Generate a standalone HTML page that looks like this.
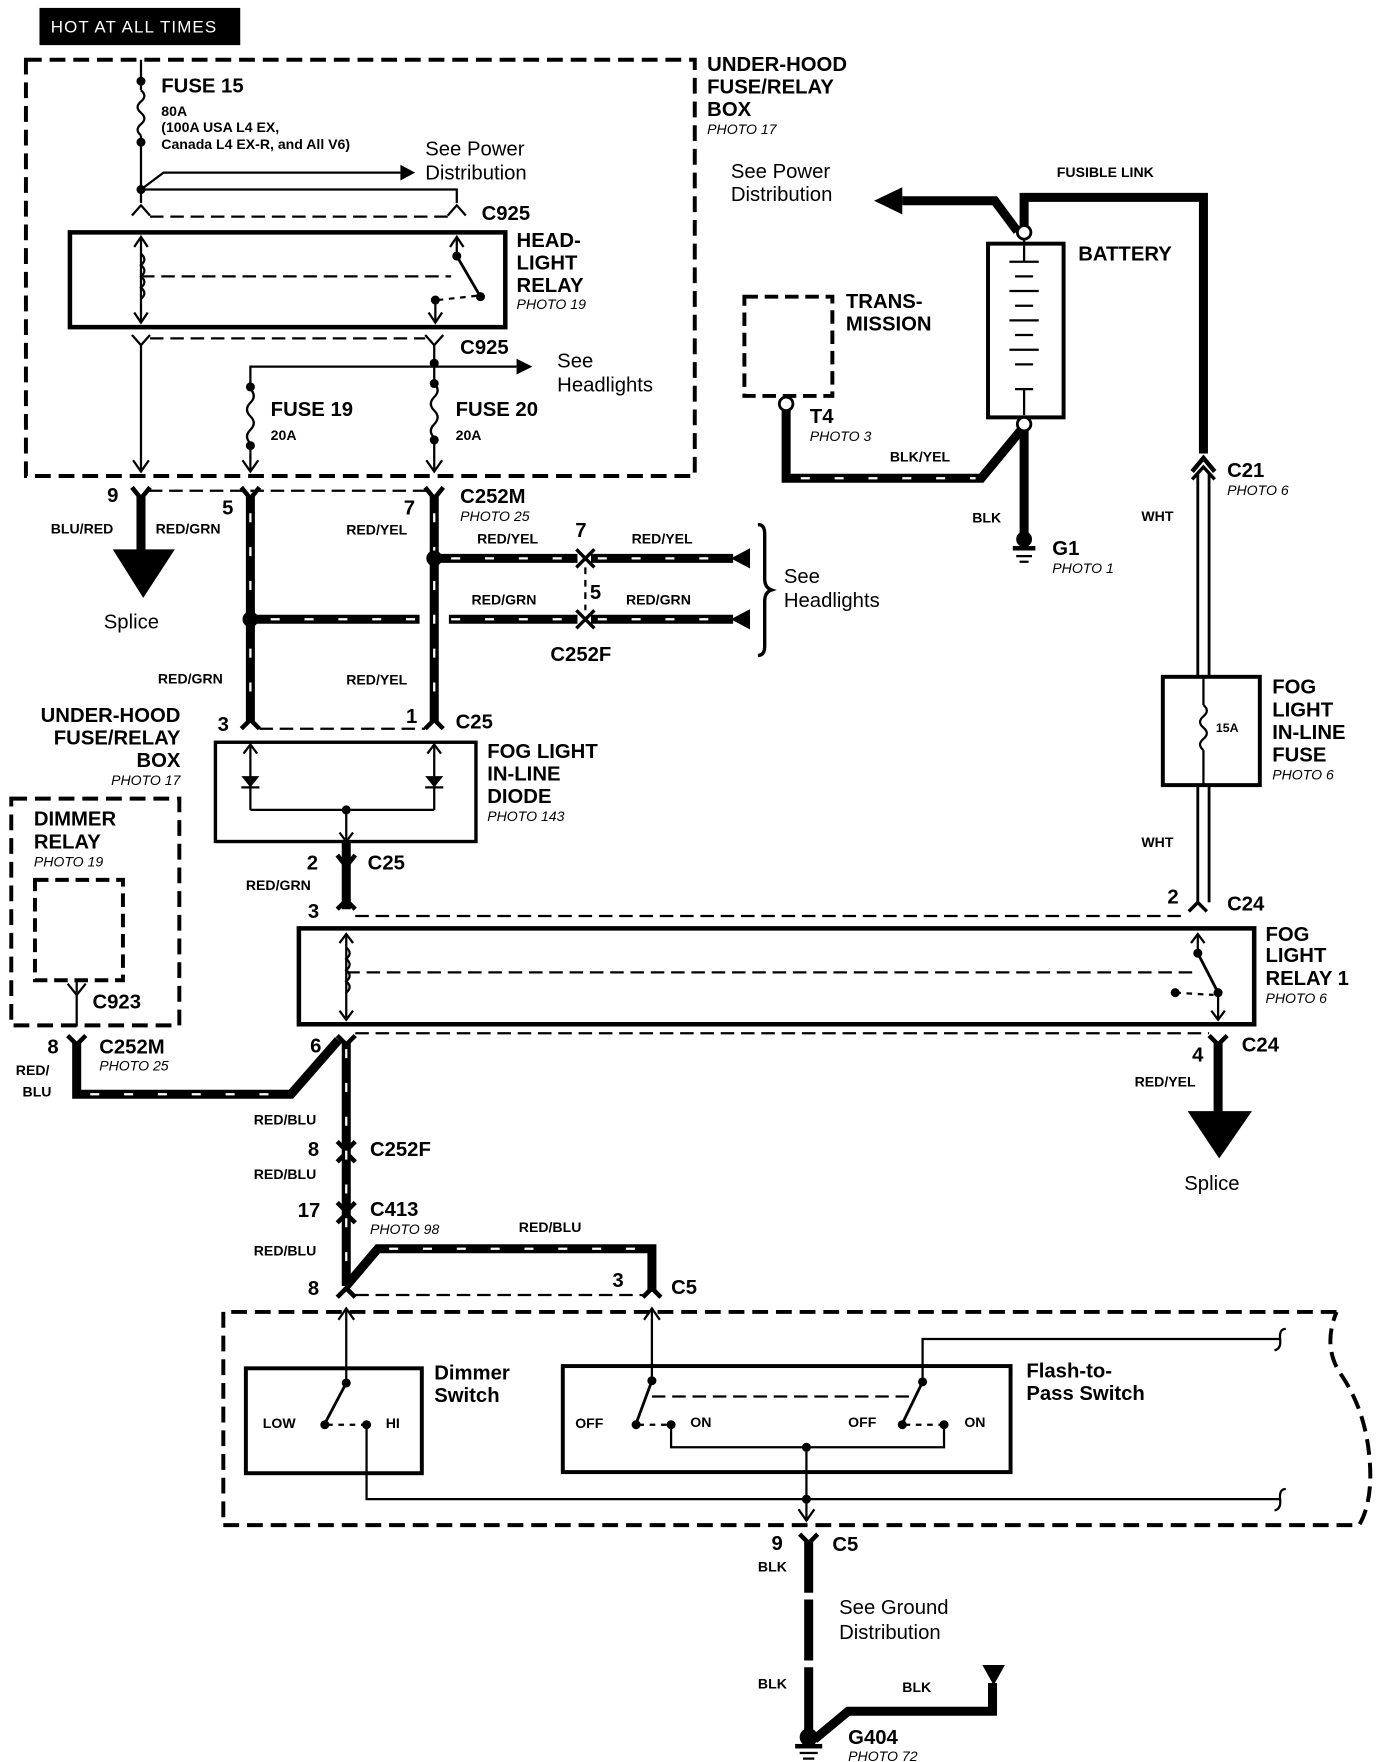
<!DOCTYPE html>
<html><head><meta charset="utf-8"><style>
html,body{margin:0;padding:0;background:#fff;}
svg{display:block;}
text{font-family:"Liberation Sans",Arial,sans-serif;fill:#000;}
.b{font-weight:bold;}
.h{font-weight:bold;font-size:18px;}
.s{font-weight:bold;font-size:12.5px;}
.p{font-style:italic;font-size:12.5px;}
.n{font-size:18px;}
</style></head><body>
<svg width="1376" height="1762" viewBox="0 0 1220 1562" preserveAspectRatio="none" xmlns="http://www.w3.org/2000/svg">
<g fill="none" stroke="#000">
<!-- under-hood dashed box -->
<rect x="23" y="53" width="593" height="369" stroke-width="3.5" stroke-dasharray="14,7"/>
<!-- fuse 15 -->
<line x1="125" y1="53" x2="125" y2="80" stroke-width="2"/>
<path d="M125 80 q6 5 0 10 q-6 5 0 10 q6 5 0 10 q-6 5 0 10" stroke-width="2"/>
<line x1="125" y1="120" x2="125" y2="180" stroke-width="2"/>
<polyline points="125,168 145,153 355,153" stroke-width="2"/>
<polyline points="125,168 405,168 405,180" stroke-width="2"/>
<polyline points="117,191 125,182 133,191" stroke-width="2"/>
<polyline points="397,191 405,182 413,191" stroke-width="2"/>
<line x1="133" y1="192" x2="397" y2="192" stroke-width="2" stroke-dasharray="12,6"/>
<!-- headlight relay -->
<rect x="62" y="206" width="386" height="84" stroke-width="4"/>
<line x1="125" y1="210" x2="125" y2="286" stroke-width="2"/>
<polyline points="119,219 125,210 131,219" stroke-width="2"/>
<polyline points="119,277 125,286 131,277" stroke-width="2"/>
<path d="M125 225 q6 5 0 10 q6 5 0 10 q6 5 0 10 q6 5 0 10" stroke-width="2"/>
<line x1="125" y1="245" x2="400" y2="245" stroke-width="2" stroke-dasharray="12,6"/>
<line x1="405" y1="210" x2="405" y2="227" stroke-width="2"/>
<polyline points="399,219 405,210 411,219" stroke-width="2"/>
<line x1="405" y1="227" x2="426" y2="263" stroke-width="2.5"/>
<line x1="388" y1="266" x2="424" y2="262" stroke-width="2" stroke-dasharray="5,5"/>
<line x1="386" y1="266" x2="386" y2="286" stroke-width="2"/>
<polyline points="380,277 386,286 392,277" stroke-width="2"/>
<!-- lower C925 -->
<polyline points="117,297 125,306 133,297" stroke-width="2"/>
<polyline points="377,297 385,306 393,297" stroke-width="2"/>
<line x1="133" y1="300" x2="377" y2="300" stroke-width="2" stroke-dasharray="12,6"/>
<line x1="125" y1="306" x2="125" y2="418" stroke-width="2"/>
<polyline points="118,408 125,418 132,408" stroke-width="2"/>
<line x1="385" y1="306" x2="385" y2="340" stroke-width="2"/>
<polyline points="222,345 222,325 458,325" stroke-width="2"/>
<path d="M222 345 q6 6 0 12 q-6 6 0 12 q6 6 0 12 q-6 6 0 12" stroke-width="2"/>
<line x1="222" y1="393" x2="222" y2="418" stroke-width="2"/>
<polyline points="215,408 222,418 229,408" stroke-width="2"/>
<path d="M385 340 q6 6 0 12 q-6 6 0 12 q6 6 0 12 q-6 6 0 12" stroke-width="2"/>
<line x1="385" y1="388" x2="385" y2="418" stroke-width="2"/>
<polyline points="378,408 385,418 392,408" stroke-width="2"/>
<!-- C252M row -->
<line x1="132" y1="435" x2="378" y2="435" stroke-width="2" stroke-dasharray="12,6"/>
<polyline points="117,432 125,442 133,432" stroke-width="4"/>
<polyline points="214,432 222,442 230,432" stroke-width="4"/>
<polyline points="377,432 385,442 393,432" stroke-width="4"/>
<line x1="125" y1="440" x2="125" y2="488" stroke-width="8"/>
<line x1="222" y1="440" x2="222" y2="640" stroke-width="8"/>
<line x1="385" y1="440" x2="385" y2="640" stroke-width="8"/>
<line x1="222" y1="549" x2="372" y2="549" stroke-width="8"/>
<line x1="398" y1="549" x2="512" y2="549" stroke-width="8"/>
<line x1="385" y1="495" x2="512" y2="495" stroke-width="8"/>
<polyline points="511,487 519,495 511,503" stroke-width="3"/>
<polyline points="511,541 519,549 511,557" stroke-width="3"/>
<polyline points="527,487 519,495 527,503" stroke-width="3"/>
<polyline points="527,541 519,549 527,557" stroke-width="3"/>
<line x1="519" y1="503" x2="519" y2="541" stroke-width="2" stroke-dasharray="6,5"/>
<line x1="524" y1="495" x2="650" y2="495" stroke-width="8"/>
<line x1="524" y1="549" x2="650" y2="549" stroke-width="8"/>
<path d="M672 465 q6 0 6 8 v40 q0 8 6 10 q-6 2 -6 10 v40 q0 8 -6 8" stroke-width="3"/>
<!-- C25 -->
<polyline points="214,646 222,638 230,646" stroke-width="4"/>
<polyline points="377,646 385,638 393,646" stroke-width="4"/>
<line x1="230" y1="646" x2="377" y2="646" stroke-width="2" stroke-dasharray="12,6"/>
<rect x="191" y="658" width="231" height="88" stroke-width="3"/>
<line x1="222" y1="660" x2="222" y2="718" stroke-width="2"/>
<line x1="385" y1="660" x2="385" y2="718" stroke-width="2"/>
<polyline points="216,668 222,660 228,668" stroke-width="2"/>
<polyline points="379,668 385,660 391,668" stroke-width="2"/>
<polyline points="222,718 385,718" stroke-width="2"/>
<line x1="307" y1="718" x2="307" y2="746" stroke-width="2"/>
<polyline points="301,738 307,746 313,738" stroke-width="2"/>
<line x1="214" y1="698" x2="230" y2="698" stroke-width="2"/>
<line x1="377" y1="698" x2="393" y2="698" stroke-width="2"/>
<!-- left dimmer relay -->
<rect x="10" y="708" width="149" height="201" stroke-width="3.5" stroke-dasharray="14,7"/>
<rect x="31" y="780" width="78" height="89" stroke-width="3.5" stroke-dasharray="12,6"/>
<line x1="68" y1="869" x2="68" y2="880" stroke-width="2"/>
<polyline points="60,872 68,882 76,872" stroke-width="2"/>
<line x1="68" y1="882" x2="68" y2="910" stroke-width="2"/>
<polyline points="60,918 68,926 76,918" stroke-width="4"/>
<polyline points="68,924 68,970 258,970 300,922" stroke-width="8"/>
<!-- C25 lower & fog relay -->
<polyline points="299,758 307,768 315,758" stroke-width="4"/>
<polyline points="299,806 307,798 315,806" stroke-width="4"/>
<line x1="307" y1="746" x2="307" y2="806" stroke-width="8"/>
<line x1="315" y1="812" x2="1052" y2="812" stroke-width="2" stroke-dasharray="12,6"/>
<polyline points="1054,808 1062,800 1070,808" stroke-width="3"/>
<rect x="265" y="823" width="847" height="85" stroke-width="4"/>
<line x1="307" y1="828" x2="307" y2="904" stroke-width="2"/>
<polyline points="301,836 307,828 313,836" stroke-width="2"/>
<polyline points="301,896 307,904 313,896" stroke-width="2"/>
<path d="M307 840 q6 5 0 10 q6 5 0 10 q6 5 0 10 q6 5 0 10" stroke-width="2"/>
<line x1="307" y1="862" x2="1058" y2="862" stroke-width="2" stroke-dasharray="12,6"/>
<line x1="1062" y1="828" x2="1062" y2="845" stroke-width="2"/>
<polyline points="1056,836 1062,828 1068,836" stroke-width="2"/>
<line x1="1062" y1="845" x2="1080" y2="880" stroke-width="2.5"/>
<line x1="1042" y1="880" x2="1076" y2="882" stroke-width="2" stroke-dasharray="5,5"/>
<line x1="1080" y1="882" x2="1080" y2="904" stroke-width="2"/>
<polyline points="1074,896 1080,904 1086,896" stroke-width="2"/>
<line x1="315" y1="916" x2="1072" y2="916" stroke-width="2" stroke-dasharray="12,6"/>
<polyline points="299,918 307,926 315,918" stroke-width="4"/>
<polyline points="1072,918 1080,926 1088,918" stroke-width="4"/>
<line x1="307" y1="924" x2="307" y2="1140" stroke-width="8"/>
<line x1="1080" y1="924" x2="1080" y2="988" stroke-width="8"/>
<polyline points="299,1012 307,1020 315,1012" stroke-width="4"/>
<polyline points="299,1030 307,1022 315,1030" stroke-width="4"/>
<polyline points="299,1066 307,1074 315,1066" stroke-width="4"/>
<polyline points="299,1084 307,1076 315,1084" stroke-width="4"/>
<polyline points="307,1140 335,1107 578,1107 578,1145" stroke-width="8"/>
<polyline points="299,1150 307,1142 315,1150" stroke-width="4"/>
<polyline points="570,1150 578,1142 586,1150" stroke-width="4"/>
<line x1="315" y1="1148" x2="570" y2="1148" stroke-width="2" stroke-dasharray="12,6"/>
<!-- switch dashed housing -->
<path d="M1185 1163 H198 V1352 H1205 Q1218 1330 1214 1290 Q1210 1250 1190 1220 Q1172 1195 1185 1163" stroke-width="3.5" stroke-dasharray="14,7"/>
<line x1="307" y1="1160" x2="307" y2="1226" stroke-width="2"/>
<polyline points="300,1170 307,1160 314,1170" stroke-width="2"/>
<line x1="578" y1="1160" x2="578" y2="1224" stroke-width="2"/>
<polyline points="571,1170 578,1160 585,1170" stroke-width="2"/>
<rect x="218" y="1213" width="156" height="93" stroke-width="3.5"/>
<rect x="499" y="1211" width="397" height="94" stroke-width="3.5"/>
<line x1="307" y1="1226" x2="288" y2="1262" stroke-width="2.5"/>
<line x1="290" y1="1263" x2="322" y2="1263" stroke-width="2" stroke-dasharray="5,5"/>
<polyline points="325,1263 325,1329 1135,1329" stroke-width="2"/>
<line x1="578" y1="1224" x2="564" y2="1262" stroke-width="2.5"/>
<line x1="566" y1="1263" x2="592" y2="1263" stroke-width="2" stroke-dasharray="5,5"/>
<line x1="578" y1="1238" x2="812" y2="1238" stroke-width="2" stroke-dasharray="12,6"/>
<polyline points="818,1225 818,1187 1135,1187" stroke-width="2"/>
<line x1="818" y1="1225" x2="800" y2="1262" stroke-width="2.5"/>
<line x1="802" y1="1263" x2="835" y2="1263" stroke-width="2" stroke-dasharray="5,5"/>
<polyline points="595,1263 595,1283 837,1283 837,1263" stroke-width="2"/>
<line x1="715" y1="1283" x2="715" y2="1348" stroke-width="2"/>
<polyline points="708,1338 715,1348 722,1338" stroke-width="2"/>
<path d="M1140 1178 q-6 0 -5 9 q1 9 -5 10" stroke-width="2"/>
<path d="M1140 1320 q-6 0 -5 9 q1 9 -5 10" stroke-width="2"/>
<polyline points="709,1360 717,1368 725,1360" stroke-width="4"/>
<line x1="717" y1="1366" x2="717" y2="1412" stroke-width="8"/>
<line x1="717" y1="1418" x2="717" y2="1472" stroke-width="8"/>
<line x1="717" y1="1478" x2="717" y2="1540" stroke-width="8"/>
<polyline points="722,1542 752,1517 880,1517 880,1492" stroke-width="8"/>
<!-- right side: battery -->
<polyline points="908,205 908,175 1067,175 1067,402" stroke-width="8"/>
<polyline points="902,205 882,178 800,178" stroke-width="8"/>
<rect x="876" y="216" width="67" height="154" stroke-width="3.5"/>
<line x1="908" y1="212" x2="908" y2="232" stroke-width="2"/>
<line x1="908" y1="345" x2="908" y2="368" stroke-width="2"/>
<g stroke-width="2">
<line x1="895" y1="232" x2="921" y2="232"/><line x1="900" y1="245" x2="916" y2="245"/>
<line x1="895" y1="258" x2="921" y2="258"/><line x1="900" y1="271" x2="916" y2="271"/>
<line x1="895" y1="284" x2="921" y2="284"/><line x1="900" y1="297" x2="916" y2="297"/>
<line x1="895" y1="310" x2="921" y2="310"/><line x1="900" y1="323" x2="916" y2="323"/>
<line x1="900" y1="345" x2="916" y2="345"/>
</g>
<polyline points="908,378 870,424 697,424 697,360" stroke-width="8"/>
<line x1="908" y1="378" x2="908" y2="476" stroke-width="8"/>
<rect x="660" y="263" width="78" height="88" stroke-width="3.5" stroke-dasharray="12,6"/>
<polyline points="1057,418 1067,406 1077,418" stroke-width="4"/>
<polyline points="1057,425 1067,414 1077,425" stroke-width="3"/>
<line x1="1062" y1="420" x2="1062" y2="600" stroke-width="2.5"/>
<line x1="1072" y1="420" x2="1072" y2="600" stroke-width="2.5"/>
<rect x="1031" y="600" width="86" height="96" stroke-width="3.5"/>
<line x1="1067" y1="600" x2="1067" y2="625" stroke-width="2"/>
<path d="M1067 625 q6 5 0 10 q-6 5 0 10 q6 5 0 10 q-6 5 0 10" stroke-width="2"/>
<line x1="1067" y1="665" x2="1067" y2="696" stroke-width="2"/>
<line x1="1062" y1="696" x2="1062" y2="800" stroke-width="2.5"/>
<line x1="1072" y1="696" x2="1072" y2="800" stroke-width="2.5"/>
</g>
<!-- white dash textures on thick wires -->
<g stroke="#fff" stroke-width="2" fill="none" stroke-dasharray="8,22">
<line x1="240" y1="549" x2="370" y2="549"/><line x1="400" y1="549" x2="510" y2="549"/>
<line x1="400" y1="495" x2="510" y2="495"/><line x1="530" y1="495" x2="645" y2="495"/>
<line x1="530" y1="549" x2="645" y2="549"/>
<line x1="222" y1="455" x2="222" y2="635"/><line x1="385" y1="455" x2="385" y2="635"/>
<line x1="307" y1="930" x2="307" y2="1135"/><line x1="80" y1="970" x2="255" y2="970"/>
<line x1="345" y1="1107" x2="575" y2="1107"/><line x1="710" y1="424" x2="865" y2="424"/>
</g>
<g fill="#000" stroke="none">
<rect x="35" y="7" width="178" height="33"/>
<circle cx="125" cy="72" r="4"/><circle cx="125" cy="126" r="4"/><circle cx="125" cy="168" r="4"/>
<polygon points="355,146 368,153 355,160"/>
<circle cx="405" cy="227" r="4"/><circle cx="426" cy="263" r="4"/><circle cx="386" cy="266" r="4"/>
<circle cx="385" cy="322" r="4"/><polygon points="458,318 472,325 458,332"/>
<circle cx="222" cy="343" r="4"/><circle cx="222" cy="395" r="4"/>
<circle cx="385" cy="340" r="4"/><circle cx="385" cy="390" r="4"/>
<polygon points="100,487 155,487 127,530"/>
<circle cx="222" cy="549" r="7"/><circle cx="385" cy="495" r="7"/>
<polygon points="665,486 648,495 665,504"/><polygon points="665,540 648,549 665,558"/>
<polygon points="214,688 230,688 222,698"/><polygon points="377,688 393,688 385,698"/>
<circle cx="307" cy="718" r="4"/>
<circle cx="1062" cy="845" r="4"/><circle cx="1080" cy="880" r="4"/><circle cx="1042" cy="880" r="4"/>
<polygon points="1053,985 1110,985 1081,1027"/>
<circle cx="307" cy="1226" r="4"/><circle cx="288" cy="1263" r="4"/><circle cx="325" cy="1263" r="4"/>
<circle cx="578" cy="1224" r="4"/><circle cx="564" cy="1263" r="4"/><circle cx="595" cy="1263" r="4"/>
<circle cx="818" cy="1225" r="4"/><circle cx="800" cy="1263" r="4"/><circle cx="837" cy="1263" r="4"/>
<circle cx="715" cy="1283" r="4"/><circle cx="715" cy="1329" r="4"/>
<polygon points="871,1476 891,1476 881,1494"/>
<polygon points="800,166 775,178 800,190"/>
<circle cx="908" cy="478" r="7"/><rect x="898" y="484" width="20" height="4"/><rect x="901" y="492" width="14" height="2"/><rect x="904" y="497" width="8" height="2"/>
<circle cx="717" cy="1540" r="8"/><rect x="705" y="1546" width="24" height="4"/><rect x="709" y="1553" width="16" height="2"/><rect x="712" y="1558" width="10" height="2"/>
</g>
<g fill="#fff" stroke="#000" stroke-width="2.5">
<circle cx="908" cy="206" r="6"/><circle cx="908" cy="376" r="6"/><circle cx="697" cy="358" r="6"/>
</g>
<text x="45" y="29" style="fill:#fff;font-size:15px;letter-spacing:1px">HOT AT ALL TIMES</text>
<text x="143" y="82" class="h">FUSE 15</text>
<text x="143" y="103" class="s">80A</text>
<text x="143" y="117" class="s">(100A USA L4 EX,</text>
<text x="143" y="132" class="s">Canada L4 EX-R, and All V6)</text>
<text x="377" y="138" class="n">See Power</text>
<text x="377" y="159" class="n">Distribution</text>
<text x="427" y="195" class="h">C925</text>
<text x="458" y="219" class="h">HEAD-</text>
<text x="458" y="239" class="h">LIGHT</text>
<text x="458" y="259" class="h">RELAY</text>
<text x="458" y="274" class="p">PHOTO 19</text>
<text x="408" y="314" class="h">C925</text>
<text x="494" y="326" class="n">See</text>
<text x="494" y="347" class="n">Headlights</text>
<text x="240" y="369" class="h">FUSE 19</text>
<text x="240" y="390" class="s">20A</text>
<text x="404" y="369" class="h">FUSE 20</text>
<text x="404" y="390" class="s">20A</text>
<text x="627" y="63" class="h">UNDER-HOOD</text>
<text x="627" y="83" class="h">FUSE/RELAY</text>
<text x="627" y="103" class="h">BOX</text>
<text x="627" y="119" class="p">PHOTO 17</text>
<text x="648" y="158" class="n">See Power</text>
<text x="648" y="178" class="n">Distribution</text>
<text x="937" y="157" class="s">FUSIBLE LINK</text>
<text x="956" y="231" class="h">BATTERY</text>
<text x="750" y="273" class="h">TRANS-</text>
<text x="750" y="293" class="h">MISSION</text>
<text x="718" y="375" class="h">T4</text>
<text x="718" y="391" class="p">PHOTO 3</text>
<text x="789" y="409" class="s">BLK/YEL</text>
<text x="862" y="463" class="s">BLK</text>
<text x="933" y="492" class="h">G1</text>
<text x="933" y="508" class="p">PHOTO 1</text>
<text x="1088" y="423" class="h">C21</text>
<text x="1088" y="439" class="p">PHOTO 6</text>
<text x="1012" y="462" class="s">WHT</text>
<text x="1078" y="649" class="s" style="font-size:11px">15A</text>
<text x="1128" y="615" class="h">FOG</text>
<text x="1128" y="635" class="h">LIGHT</text>
<text x="1128" y="655" class="h">IN-LINE</text>
<text x="1128" y="675" class="h">FUSE</text>
<text x="1128" y="691" class="p">PHOTO 6</text>
<text x="1012" y="751" class="s">WHT</text>
<text x="95" y="445" class="h">9</text>
<text x="197" y="456" class="h">5</text>
<text x="358" y="456" class="h">7</text>
<text x="408" y="446" class="h">C252M</text>
<text x="408" y="462" class="p">PHOTO 25</text>
<text x="45" y="473" class="s">BLU/RED</text>
<text x="138" y="473" class="s">RED/GRN</text>
<text x="307" y="474" class="s">RED/YEL</text>
<text x="92" y="557" class="n">Splice</text>
<text x="510" y="476" class="h">7</text>
<text x="523" y="531" class="h">5</text>
<text x="423" y="482" class="s">RED/YEL</text>
<text x="560" y="482" class="s">RED/YEL</text>
<text x="418" y="536" class="s">RED/GRN</text>
<text x="555" y="536" class="s">RED/GRN</text>
<text x="488" y="586" class="h">C252F</text>
<text x="695" y="517" class="n">See</text>
<text x="695" y="538" class="n">Headlights</text>
<text x="140" y="606" class="s">RED/GRN</text>
<text x="307" y="607" class="s">RED/YEL</text>
<text x="193" y="648" class="h">3</text>
<text x="360" y="641" class="h">1</text>
<text x="404" y="646" class="h">C25</text>
<text x="432" y="672" class="h">FOG LIGHT</text>
<text x="432" y="692" class="h">IN-LINE</text>
<text x="432" y="712" class="h">DIODE</text>
<text x="432" y="728" class="p">PHOTO 143</text>
<text x="160" y="640" class="h" text-anchor="end">UNDER-HOOD</text>
<text x="160" y="660" class="h" text-anchor="end">FUSE/RELAY</text>
<text x="160" y="680" class="h" text-anchor="end">BOX</text>
<text x="160" y="696" class="p" text-anchor="end">PHOTO 17</text>
<text x="30" y="732" class="h">DIMMER</text>
<text x="30" y="752" class="h">RELAY</text>
<text x="30" y="768" class="p">PHOTO 19</text>
<text x="82" y="894" class="h">C923</text>
<text x="272" y="771" class="h">2</text>
<text x="326" y="771" class="h">C25</text>
<text x="218" y="789" class="s">RED/GRN</text>
<text x="273" y="814" class="h">3</text>
<text x="1035" y="801" class="h">2</text>
<text x="1088" y="807" class="h">C24</text>
<text x="1122" y="834" class="h">FOG</text>
<text x="1122" y="853" class="h">LIGHT</text>
<text x="1122" y="873" class="h">RELAY 1</text>
<text x="1122" y="889" class="p">PHOTO 6</text>
<text x="42" y="934" class="h">8</text>
<text x="88" y="934" class="h">C252M</text>
<text x="88" y="949" class="p">PHOTO 25</text>
<text x="14" y="953" class="s">RED/</text>
<text x="20" y="972" class="s">BLU</text>
<text x="275" y="933" class="h">6</text>
<text x="1057" y="941" class="h">4</text>
<text x="1101" y="932" class="h">C24</text>
<text x="1006" y="963" class="s">RED/YEL</text>
<text x="1050" y="1055" class="n">Splice</text>
<text x="225" y="997" class="s">RED/BLU</text>
<text x="273" y="1025" class="h">8</text>
<text x="328" y="1025" class="h">C252F</text>
<text x="225" y="1045" class="s">RED/BLU</text>
<text x="264" y="1079" class="h">17</text>
<text x="328" y="1078" class="h">C413</text>
<text x="328" y="1094" class="p">PHOTO 98</text>
<text x="225" y="1113" class="s">RED/BLU</text>
<text x="460" y="1092" class="s">RED/BLU</text>
<text x="273" y="1148" class="h">8</text>
<text x="543" y="1141" class="h">3</text>
<text x="595" y="1147" class="h">C5</text>
<text x="385" y="1223" class="h">Dimmer</text>
<text x="385" y="1243" class="h">Switch</text>
<text x="233" y="1266" class="s">LOW</text>
<text x="342" y="1266" class="s">HI</text>
<text x="510" y="1266" class="s">OFF</text>
<text x="612" y="1265" class="s">ON</text>
<text x="752" y="1265" class="s">OFF</text>
<text x="855" y="1265" class="s">ON</text>
<text x="910" y="1221" class="h">Flash-to-</text>
<text x="910" y="1241" class="h">Pass Switch</text>
<text x="684" y="1374" class="h">9</text>
<text x="738" y="1375" class="h">C5</text>
<text x="672" y="1393" class="s">BLK</text>
<text x="744" y="1431" class="n">See Ground</text>
<text x="744" y="1453" class="n">Distribution</text>
<text x="672" y="1497" class="s">BLK</text>
<text x="800" y="1500" class="s">BLK</text>
<text x="752" y="1546" class="h">G404</text>
<text x="752" y="1561" class="p">PHOTO 72</text>
</svg>
</body></html>
